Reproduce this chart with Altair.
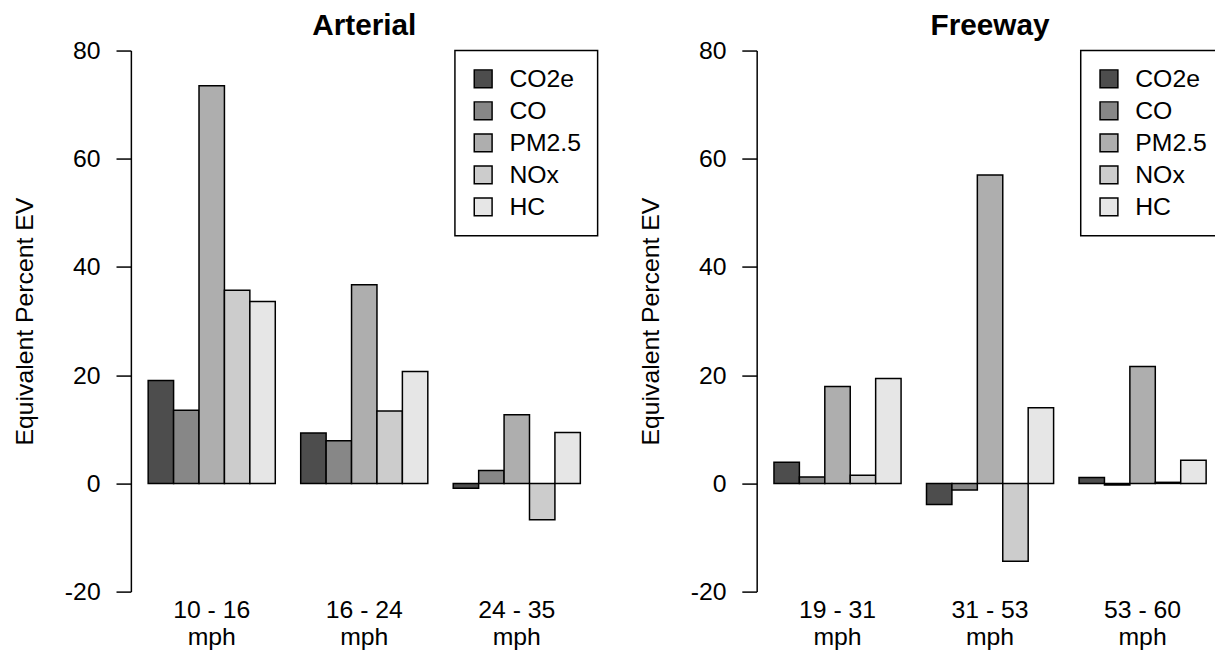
import altair as alt
import pandas as pd

FONT = "Liberation Sans"

pollutants = ["CO2e", "CO", "PM2.5", "NOx", "HC"]
colors = ["#4D4D4D", "#878787", "#AEAEAE", "#CCCCCC", "#E6E6E6"]

arterial_speeds = ["10 - 16", "16 - 24", "24 - 35"]
arterial_co2e = [19.0, 9.3, -0.9]
arterial_co = [13.5, 7.9, 2.4]
arterial_pm25 = [73.5, 36.7, 12.7]
arterial_nox = [35.7, 13.4, -6.7]
arterial_hc = [33.6, 20.7, 9.4]

freeway_speeds = ["19 - 31", "31 - 53", "53 - 60"]
freeway_co2e = [3.9, -3.9, 1.1]
freeway_co = [1.2, -1.2, -0.3]
freeway_pm25 = [17.9, 57.0, 21.6]
freeway_nox = [1.5, -14.4, 0.2]
freeway_hc = [19.4, 14.0, 4.3]

y_ticks = [-20, 0, 20, 40, 60, 80]


def make_df(speeds, series):
    rows = []
    for p, vals in zip(pollutants, series):
        for s, v in zip(speeds, vals):
            rows.append({"speed": s, "pollutant": p, "value": v})
    return pd.DataFrame(rows)


def panel(df, speeds, title, width):
    return alt.Chart(df).mark_bar(stroke="black", strokeWidth=1.5).encode(
        x=alt.X(
            "speed:N", sort=speeds, title=None,
            scale=alt.Scale(paddingInner=1 / 6, paddingOuter=0.68 / 6),
            axis=alt.Axis(labelExpr="[datum.label, 'mph']", labelAngle=0,
                          domain=False, ticks=False, labelFontSize=25,
                          labelPadding=6, labelLineHeight=27,
                          labelColor="black", labelFont=FONT),
        ),
        xOffset=alt.XOffset("pollutant:N", sort=pollutants,
                            scale=alt.Scale(paddingInner=0, paddingOuter=0)),
        y=alt.Y(
            "value:Q",
            scale=alt.Scale(domain=[-20, 80], nice=False),
            axis=alt.Axis(values=y_ticks, title="Equivalent Percent EV",
                          labelExpr="datum.value + ''",
                          grid=False, tickSize=15, tickColor="black",
                          tickWidth=1.5, domainColor="black", domainWidth=1.5,
                          labelFontSize=25, labelPadding=16, labelColor="black",
                          labelFont=FONT, titleFont=FONT, titleFontSize=25,
                          titleFontWeight="normal", titleColor="black",
                          titlePadding=27),
        ),
        color=alt.Color(
            "pollutant:N", sort=pollutants,
            scale=alt.Scale(domain=pollutants, range=colors),
            legend=alt.Legend(title=None, orient="top-right", offset=0,
                              labelExpr="datum.label + '\u00a0\u00a0\u00a0\u00a0'"),
        ),
    ).properties(
        width=width, height=546,
        title=alt.TitleParams(title, fontSize=30, fontWeight="bold", font=FONT,
                              anchor="middle", offset=-2.5, color="black"),
    )


art = panel(make_df(arterial_speeds, [arterial_co2e, arterial_co, arterial_pm25,
                                      arterial_nox, arterial_hc]),
            arterial_speeds, "Arterial", 471)
fwy = panel(make_df(freeway_speeds, [freeway_co2e, freeway_co, freeway_pm25,
                                     freeway_nox, freeway_hc]),
            freeway_speeds, "Freeway", 471)

chart = alt.hconcat(art, fwy, spacing=39.5).resolve_scale(
    color="independent", xOffset="independent"
).resolve_legend(color="independent").configure(
    padding={"left": 4, "top": 0, "right": -10, "bottom": 0}, font=FONT
).configure_view(stroke=None).configure_legend(
    strokeColor="black", strokeWidth=1.5, fillColor="white", padding=16,
    symbolType="square", symbolSize=324, symbolStrokeColor="black",
    symbolStrokeWidth=1.5, labelFontSize=25, labelFont=FONT,
    labelColor="black", labelOffset=14, rowPadding=6.3, cornerRadius=0,
)

chart.save("out.html", embed_options={"renderer": "svg", "actions": False})
